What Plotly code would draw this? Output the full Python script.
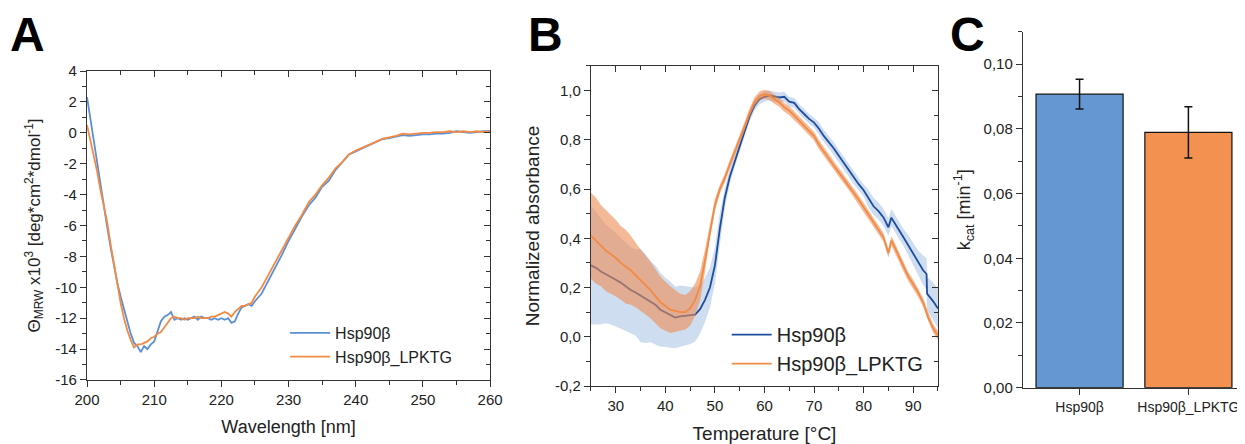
import plotly.graph_objects as go

# ---- panel A: CD spectra ----
wavelength = [200, 200.5, 201, 201.5, 202, 202.5, 203, 203.5, 204, 204.5,
              205, 205.5, 206, 206.5, 207, 207.5, 208, 208.5, 209, 209.5,
              210, 210.5, 211, 211.5, 212, 212.5, 213, 213.5, 214, 214.5,
              215, 215.5, 216, 216.5, 217, 217.5, 218, 218.5, 219, 219.5,
              220, 220.5, 221, 221.5, 222, 222.5, 223, 223.5, 224, 224.5,
              225, 226, 227, 228, 229, 230, 231, 232, 233, 234, 235, 236,
              237, 238, 239, 240, 241, 242, 243, 244, 245, 246, 247, 248,
              249, 250, 251, 252, 253, 254, 255, 256, 257, 258, 259, 260]
cd_hsp90b = [2.3, 0.9, -0.8, -2.2, -3.5, -4.9, -6.1, -7.4, -8.6, -9.7,
             -10.6, -11.4, -12.3, -13.0, -13.6, -13.8, -14.2, -13.8, -14.0, -13.7,
             -13.5, -12.9, -12.2, -11.9, -11.8, -11.6, -12.1, -12.0, -12.1, -12.0,
             -12.1, -12.0, -11.9, -12.1, -11.9, -12.0, -12.0, -12.1, -12.0, -12.1,
             -12.0, -12.1, -12.0, -12.3, -12.2, -11.7, -11.3, -11.2, -11.1, -11.2,
             -10.9, -10.4, -9.6, -8.7, -7.9, -7.0, -6.2, -5.4, -4.7, -4.2, -3.5, -3.1,
             -2.4, -1.9, -1.4, -1.2, -1.0, -0.8, -0.6, -0.4, -0.35, -0.25, -0.15, -0.2,
             -0.15, -0.1, -0.1, -0.05, -0.05, 0.0, 0.1, 0.05, 0.0, 0.05, 0.1, 0.1]
cd_lpktg = [0.5, -0.5, -1.3, -2.5, -3.7, -4.8, -5.8, -7.2, -8.5, -9.8,
            -11.0, -12.0, -12.8, -13.4, -13.9, -13.7, -13.7, -13.6, -13.5, -13.3,
            -13.2, -13.0, -12.9, -12.6, -12.3, -12.0, -11.9, -12.0, -12.0, -12.1,
            -12.0, -12.0, -12.0, -11.9, -12.0, -12.0, -12.0, -11.9, -11.9, -11.8,
            -11.7, -11.6, -11.7, -11.9, -11.6, -11.4, -11.2, -11.2, -11.1, -11.0,
            -10.6, -10.0, -9.2, -8.4, -7.6, -6.8, -6.0, -5.3, -4.5, -4.0, -3.4, -2.9,
            -2.3, -1.9, -1.4, -1.15, -0.95, -0.75, -0.55, -0.4, -0.3, -0.2, -0.05, -0.1,
            -0.05, 0.0, 0.0, 0.05, 0.05, 0.1, 0.05, 0.1, 0.05, 0.1, 0.05, 0.1]

# ---- panel B: thermal aggregation (mean +/- sd) ----
temperature = [25, 26, 27, 28, 29, 30, 31, 32, 33, 34, 35, 36, 37, 38, 39, 40,
               41, 42, 43, 44, 45, 46, 47, 48, 49, 50, 51, 52, 53, 54, 55, 56,
               57, 58, 59, 60, 61, 62, 63, 64, 65, 66, 67, 68, 69, 70, 71, 72,
               73, 74, 75, 76, 77, 78, 79, 80, 81, 82, 83, 84, 85, 85.6, 86, 87,
               88, 89, 90, 91, 92, 92.7, 92.8, 93, 94, 95]
abs_hsp90b = [0.29, 0.28, 0.265, 0.255, 0.245, 0.232, 0.22, 0.205, 0.19, 0.18,
              0.168, 0.155, 0.143, 0.13, 0.11, 0.1, 0.09, 0.078, 0.083, 0.085,
              0.086, 0.09, 0.112, 0.15, 0.2, 0.29, 0.44, 0.565, 0.65, 0.715,
              0.775, 0.835, 0.895, 0.94, 0.965, 0.975, 0.98, 0.975, 0.972, 0.975,
              0.955, 0.95, 0.925, 0.905, 0.885, 0.87, 0.845, 0.815, 0.79, 0.765,
              0.735, 0.705, 0.675, 0.645, 0.62, 0.595, 0.56, 0.53, 0.51, 0.485,
              0.445, 0.484, 0.47, 0.44, 0.405, 0.372, 0.338, 0.3, 0.27, 0.255,
              0.175, 0.17, 0.145, 0.115]
abs_hsp90b_sd = [0.24, 0.23, 0.215, 0.2, 0.195, 0.19, 0.185, 0.18, 0.175, 0.175,
                 0.19, 0.18, 0.165, 0.16, 0.15, 0.14, 0.135, 0.125, 0.125, 0.12,
                 0.115, 0.11, 0.1, 0.09, 0.08, 0.075, 0.065, 0.04, 0.03, 0.025,
                 0.02, 0.02, 0.02, 0.02, 0.02, 0.02, 0.02, 0.02, 0.02, 0.02,
                 0.02, 0.02, 0.02, 0.02, 0.02, 0.02, 0.025, 0.025, 0.025, 0.025,
                 0.025, 0.025, 0.025, 0.025, 0.025, 0.025, 0.035, 0.035, 0.035, 0.035,
                 0.035, 0.035, 0.035, 0.035, 0.035, 0.04, 0.045, 0.05, 0.06, 0.065,
                 0.065, 0.07, 0.075, 0.08]
abs_lpktg = [0.41, 0.39, 0.37, 0.35, 0.335, 0.32, 0.3, 0.285, 0.27, 0.25,
             0.23, 0.21, 0.19, 0.165, 0.14, 0.125, 0.11, 0.105, 0.1, 0.1,
             0.115, 0.15, 0.205, 0.31, 0.43, 0.535, 0.6, 0.645, 0.7, 0.75,
             0.805, 0.855, 0.91, 0.955, 0.978, 0.985, 0.98, 0.965, 0.952, 0.932,
             0.918, 0.898, 0.878, 0.858, 0.837, 0.815, 0.78, 0.75, 0.722, 0.695,
             0.668, 0.641, 0.614, 0.587, 0.557, 0.526, 0.495, 0.465, 0.435, 0.404,
             0.34, 0.39, 0.375, 0.33, 0.285, 0.245, 0.214, 0.18, 0.14, 0.1,
             0.095, 0.079, 0.035, 0.005]
abs_lpktg_sd = [0.175, 0.175, 0.165, 0.165, 0.16, 0.155, 0.15, 0.15, 0.14, 0.13,
                0.125, 0.12, 0.115, 0.11, 0.105, 0.1, 0.095, 0.085, 0.075, 0.07,
                0.07, 0.065, 0.06, 0.045, 0.03, 0.025, 0.018, 0.018, 0.018, 0.018,
                0.018, 0.018, 0.018, 0.018, 0.018, 0.018, 0.018, 0.018, 0.018, 0.018,
                0.018, 0.018, 0.018, 0.018, 0.018, 0.018, 0.018, 0.018, 0.018, 0.018,
                0.018, 0.018, 0.018, 0.018, 0.018, 0.018, 0.018, 0.018, 0.018, 0.018,
                0.018, 0.018, 0.018, 0.018, 0.018, 0.018, 0.018, 0.018, 0.018, 0.018,
                0.018, 0.018, 0.018, 0.018]

# ---- panel C: ATPase kcat ----
proteins = ['Hsp90β', 'Hsp90β_LPKTG']
kcat = [0.0907, 0.0789]
kcat_err = [0.0046, 0.0079]

a_yticks = [4, 2, 0, -2, -4, -6, -8, -10, -12, -14, -16]
a_yticklabels = ['4', '2', '0', '-2', '-4', '-6', '-8', '-10', '-12', '-14', '-16']
b_yticks = [-0.2, 0.0, 0.2, 0.4, 0.6, 0.8, 1.0]
b_yticklabels = ['-0,2', '0,0', '0,2', '0,4', '0,6', '0,8', '1,0']
c_yticks = [0.0, 0.02, 0.04, 0.06, 0.08, 0.10]
c_yticklabels = ['0,00', '0,02', '0,04', '0,06', '0,08', '0,10']

FONT = 'Arial, Liberation Sans, sans-serif'
INK = '#222222'
BLUE_A = '#5b8fd6'
ORANGE = '#f38a44'
BLUE_B = '#1c4d9e'

# the page body has an 8px margin, so the figure is 8px smaller than the window
W, H = 1237, 436

fig = go.Figure()

# A
fig.add_trace(go.Scatter(x=wavelength, y=cd_hsp90b, mode='lines', name='Hsp90β',
                         line=dict(color=BLUE_A, width=1.8), xaxis='x', yaxis='y',
                         legend='legend'))
fig.add_trace(go.Scatter(x=wavelength, y=cd_lpktg, mode='lines', name='Hsp90β_LPKTG',
                         line=dict(color=ORANGE, width=1.8), xaxis='x', yaxis='y',
                         legend='legend'))

# B - bands then lines
b_hi = [m + s for m, s in zip(abs_hsp90b, abs_hsp90b_sd)]
b_lo = [m - s for m, s in zip(abs_hsp90b, abs_hsp90b_sd)]
o_hi = [m + s for m, s in zip(abs_lpktg, abs_lpktg_sd)]
o_lo = [m - s for m, s in zip(abs_lpktg, abs_lpktg_sd)]

fig.add_trace(go.Scatter(x=temperature + temperature[::-1], y=b_hi + b_lo[::-1],
                         fill='toself', fillcolor='rgba(160,188,226,0.5)',
                         line=dict(width=0), mode='lines', hoverinfo='skip',
                         showlegend=False, xaxis='x2', yaxis='y2'))
fig.add_trace(go.Scatter(x=temperature, y=abs_hsp90b, mode='lines', name='Hsp90β',
                         line=dict(color=BLUE_B, width=1.8), xaxis='x2', yaxis='y2',
                         legend='legend2'))
fig.add_trace(go.Scatter(x=temperature + temperature[::-1], y=o_hi + o_lo[::-1],
                         fill='toself', fillcolor='rgba(236,140,84,0.6)',
                         line=dict(width=0), mode='lines', hoverinfo='skip',
                         showlegend=False, xaxis='x2', yaxis='y2'))
fig.add_trace(go.Scatter(x=temperature, y=abs_lpktg, mode='lines', name='Hsp90β_LPKTG',
                         line=dict(color=ORANGE, width=1.8), xaxis='x2', yaxis='y2',
                         legend='legend2'))

# invisible copies so the mirrored (top / right) frame axes get drawn
for xa, ya, xs, ys in [('x4', 'y', wavelength, cd_hsp90b), ('x', 'y4', wavelength, cd_hsp90b),
                       ('x5', 'y2', temperature, abs_hsp90b), ('x2', 'y5', temperature, abs_hsp90b)]:
    fig.add_trace(go.Scatter(x=xs, y=ys, mode='lines', opacity=0, hoverinfo='skip',
                             showlegend=False, xaxis=xa, yaxis=ya))

# C
fig.add_trace(go.Bar(x=proteins, y=kcat, width=0.8,
                     marker=dict(color=['#6598d2', '#f29150'],
                                 line=dict(color='#111111', width=1.2)),
                     error_y=dict(type='data', array=kcat_err, color='#111111',
                                  thickness=1.5, width=4),
                     showlegend=False, xaxis='x3', yaxis='y3'))

tickfont = dict(family=FONT, size=15, color=INK)
common = dict(showgrid=False, zeroline=False, showline=True, linecolor='#333333',
              linewidth=1.3, tickcolor='#333333', tickwidth=1.3, ticklen=6,
              tickfont=tickfont, automargin=False)

# A axes
fig.update_layout(
    xaxis=dict(domain=[0.0639, 0.3897], anchor='y', range=[200, 260], dtick=10,
               ticks='outside', minor=dict(dtick=5, ticklen=3.5, ticks='outside'),
               title=dict(text='Wavelength [nm]', font=dict(family=FONT, size=18, color=INK),
                          standoff=13), **common),
    yaxis=dict(domain=[0.1468, 0.8555], anchor='x', range=[-16, 4],
               tickmode='array', tickvals=a_yticks, ticktext=a_yticklabels,
               ticks='outside', minor=dict(dtick=1, tick0=0, ticklen=3.5, ticks='outside'),
               title=dict(text='Θ<sub>MRW</sub> x10<sup>3</sup> [deg*cm<sup>2</sup>*dmol<sup>-1</sup>]',
                          font=dict(family=FONT, size=17, color=INK), standoff=10),
               **common),
    xaxis4=dict(overlaying='x', side='top', anchor='y', range=[200, 260], dtick=10,
                ticks='inside', showticklabels=False,
                minor=dict(dtick=5, ticklen=3.5, ticks='inside'), **common),
    yaxis4=dict(overlaying='y', side='right', anchor='x', range=[-16, 4], dtick=2,
                ticks='inside', showticklabels=False,
                minor=dict(dtick=1, ticklen=3.5, ticks='inside'), **common),
)

# B axes
fig.update_layout(
    xaxis2=dict(domain=[0.4713, 0.7518], anchor='y2', range=[25, 95], dtick=10,
                tick0=0, ticks='outside', minor=dict(dtick=5, ticklen=3.5, ticks='outside'),
                title=dict(text='Temperature [°C]', font=dict(family=FONT, size=19, color=INK),
                           standoff=15), **common),
    yaxis2=dict(domain=[0.1330, 0.8670], anchor='x2', range=[-0.2, 1.1],
                tickmode='array', tickvals=b_yticks, ticktext=b_yticklabels,
                ticks='outside', minor=dict(dtick=0.1, tick0=0, ticklen=3.5, ticks='outside'),
                title=dict(text='Normalized absorbance', font=dict(family=FONT, size=19, color=INK),
                           standoff=10), **common),
    xaxis5=dict(overlaying='x2', side='top', anchor='y2', range=[25, 95], dtick=10,
                tick0=0, ticks='inside', showticklabels=False,
                minor=dict(dtick=5, ticklen=3.5, ticks='inside'), **common),
    yaxis5=dict(overlaying='y2', side='right', anchor='x2', range=[-0.2, 1.1], dtick=0.2,
                tick0=0, ticks='inside', showticklabels=False,
                minor=dict(dtick=0.1, ticklen=3.5, ticks='inside'), **common),
)

# C axes
fig.update_layout(
    xaxis3=dict(domain=[0.8205, 1.0], anchor='y3', type='category', range=[-0.52, 1.52],
                ticks='outside', showgrid=False, zeroline=False, showline=True,
                linecolor='#333333', linewidth=1.3, tickcolor='#333333', tickwidth=1.3,
                ticklen=6, tickfont=dict(family=FONT, size=14, color=INK), automargin=False),
    yaxis3=dict(domain=[0.1291, 0.9456], anchor='x3', range=[0, 0.11],
                tickmode='array', tickvals=c_yticks, ticktext=c_yticklabels,
                ticks='outside', minor=dict(dtick=0.01, tick0=0, ticklen=3.5, ticks='outside'),
                title=dict(text='k<sub>cat</sub> [min<sup>-1</sup>]',
                           font=dict(family=FONT, size=18, color=INK), standoff=8),
                **common),
)

# panel letters
for letter, xp in [('A', 0.0), ('B', 0.4188), ('C', 0.7599)]:
    fig.add_annotation(text='<b>%s</b>' % letter, x=xp, y=0.9385,
                       xref='paper', yref='paper', xanchor='left', yanchor='middle',
                       showarrow=False, font=dict(family=FONT, size=48, color='#000000'))

fig.update_layout(
    width=W, height=H,
    margin=dict(l=0, r=0, t=0, b=0, autoexpand=False),
    paper_bgcolor='white', plot_bgcolor='white',
    font=dict(family=FONT, color=INK),
    bargap=0.2,
    legend=dict(x=0.224, y=0.2936, xanchor='left', yanchor='top',
                bgcolor='rgba(0,0,0,0)', font=dict(family=FONT, size=16, color=INK),
                tracegroupgap=0, itemwidth=40),
    legend2=dict(x=0.581, y=0.2955, xanchor='left', yanchor='top',
                 bgcolor='rgba(0,0,0,0)', font=dict(family=FONT, size=20, color=INK),
                 tracegroupgap=0, itemwidth=40),
)

fig.write_html("out.html")
